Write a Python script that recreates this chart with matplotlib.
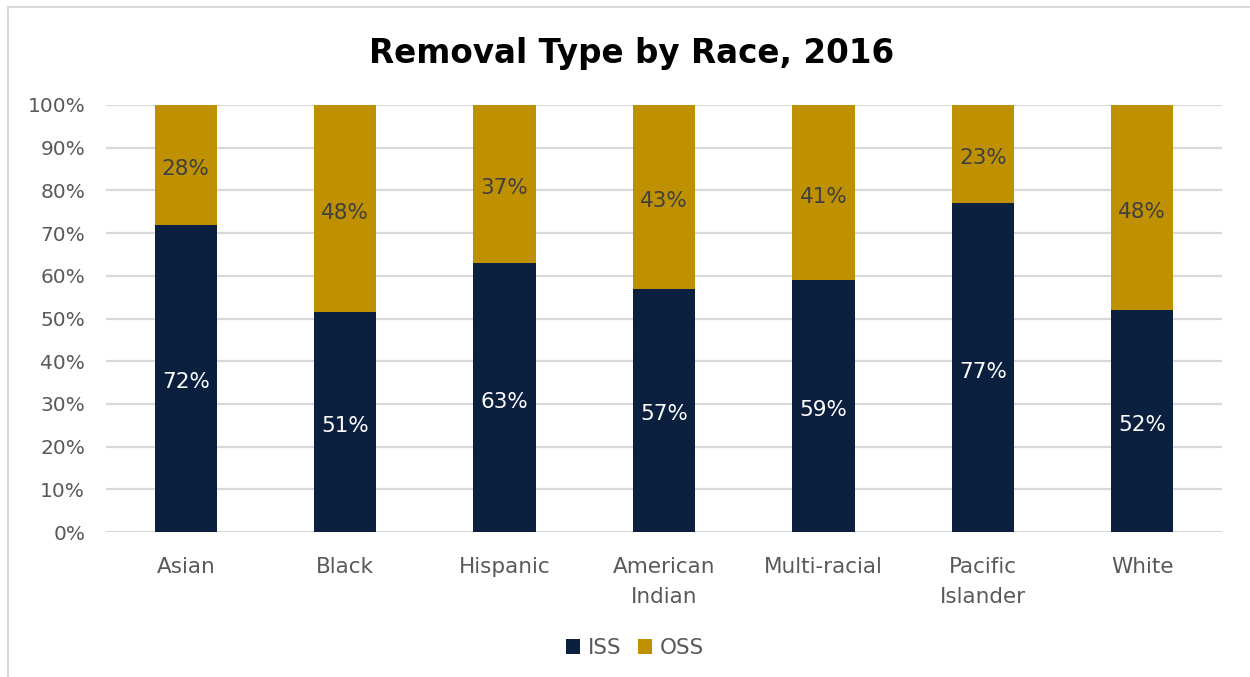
import matplotlib
matplotlib.use("Agg")
import matplotlib.pyplot as plt
from matplotlib.lines import Line2D
import numpy as np

plt.rcParams['font.family'] = ['DejaVu Sans']

categories = ["Asian", "Black", "Hispanic", "American\nIndian", "Multi-racial",
              "Pacific\nIslander", "White"]
iss = [72, 51, 63, 57, 59, 77, 52]
oss = [28, 48, 37, 43, 41, 23, 48]
yticks = [0, 10, 20, 30, 40, 50, 60, 70, 80, 90, 100]

navy = "#0B1F3F"
gold = "#BF9000"
grid_c = "#D9D9D9"
text_c = "#595959"
fs = 15.5

# 100% stacked: each bar normalised to its own total
iss_a = np.array(iss, dtype=float)
oss_a = np.array(oss, dtype=float)
tot = iss_a + oss_a
iss_s = iss_a / tot * 100
oss_s = oss_a / tot * 100

fig = plt.figure(figsize=(12.5, 6.77), dpi=100)
ax = fig.add_axes([106 / 1250, 1 - 532 / 677, (1222 - 106) / 1250, (532 - 105) / 677])

x = np.arange(len(categories))
w = 0.39
b1 = ax.bar(x, iss_s, w, color=navy, label="ISS", zorder=3)
b2 = ax.bar(x, oss_s, w, bottom=iss_s, color=gold, label="OSS", zorder=3)

for i in range(len(x)):
    ax.annotate(f"{iss[i]}%", (x[i], iss_s[i] / 2), xytext=(0, -3),
                textcoords="offset points", ha="center", va="center",
                color="white", fontsize=fs, zorder=4)
    ax.annotate(f"{oss[i]}%", (x[i], iss_s[i] + oss_s[i] / 2), xytext=(0, -3),
                textcoords="offset points", ha="center", va="center",
                color="#404040", fontsize=fs, zorder=4)

ax.set_xlim(-0.5, len(categories) - 0.5)
ax.set_ylim(0, 100)
ax.set_yticks(yticks)
ax.set_yticklabels([f"{t}%" for t in yticks], fontsize=14.5, color=text_c)
ax.set_xticks(x)
ax.set_xticklabels(categories, fontsize=fs, color=text_c, linespacing=1.65)
ax.tick_params(axis="both", length=0)
ax.tick_params(axis="x", pad=18)
ax.tick_params(axis="y", pad=15)
ax.grid(axis="y", color=grid_c, linewidth=1.6, zorder=0)
for s in ax.spines.values():
    s.set_visible(False)

fig.text(0.505, 1 - 53 / 677, "Removal Type by Race, 2016", ha="center", va="center",
         fontsize=23.5, fontweight="bold", color="black")

fig.legend(handles=[b1, b2], labels=["ISS", "OSS"], loc="center",
           bbox_to_anchor=(0.508, 1 - 648 / 677), ncol=2, frameon=False,
           prop={"size": fs}, labelcolor=text_c,
           handlelength=0.65, handleheight=0.65, handletextpad=0.35, columnspacing=0.8)

# chart frame: top and left edges
fig.lines.append(Line2D([8 / 1250, 1.0], [1 - 7 / 677, 1 - 7 / 677],
                        transform=fig.transFigure, color=grid_c, linewidth=1.5))
fig.lines.append(Line2D([8 / 1250, 8 / 1250], [0.0, 1 - 7 / 677],
                        transform=fig.transFigure, color=grid_c, linewidth=1.5))

fig.savefig("out.png", dpi=100, facecolor="white")
